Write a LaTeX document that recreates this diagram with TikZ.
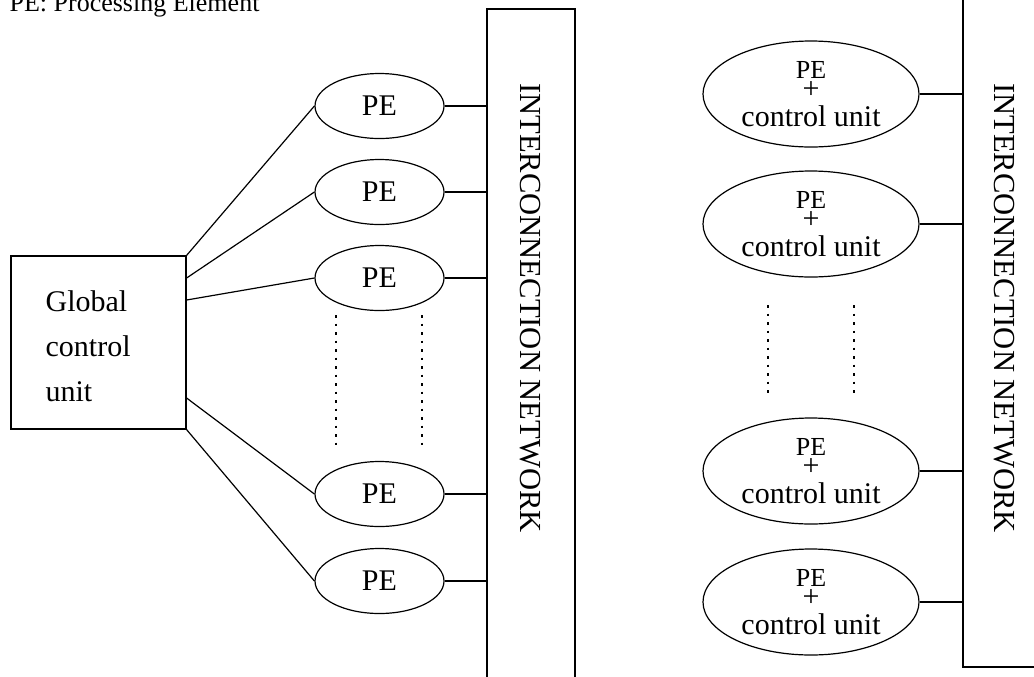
\documentclass[tikz,border=0pt]{standalone}
\usepackage{fontspec}
\setmainfont{Liberation Serif}
\usetikzlibrary{shapes.geometric}

\tikzset{
  txt/.style={inner sep=0pt, font=\fontsize{15}{18}\selectfont},
  pe/.style={draw, ellipse, txt, minimum width=64.5pt, minimum height=32.5pt},
  pecu/.style={draw, ellipse, inner sep=0pt, minimum width=108pt, minimum height=53pt},
  cutop/.style={txt, anchor=base, yshift=8pt, font=\fontsize{13}{13}\selectfont},
  cuplus/.style={txt, anchor=base, yshift=-2pt},
  cubot/.style={txt, anchor=base, yshift=-16pt},
  netbox/.style={draw, rectangle, inner sep=0pt},
  nettext/.style={txt, rotate=-90, font=\fontsize{15.3}{18}\selectfont},
  dots/.style={dash pattern=on 1.25pt off 3pt},
}

\begin{document}
\begin{tikzpicture}[x=0.5pt, y=-0.5pt, line width=0.6pt]
\useasboundingbox (0,0) rectangle (1034,676);
\clip (0,0) rectangle (1034,676);
\node[txt, anchor=base west, font=\fontsize{13}{16}\selectfont] (title) at (9,11) {PE: Processing Element};

\node[netbox, minimum width=87.5pt, minimum height=86.5pt] (gcu) at (98.5,342.5) {};
\node[txt, anchor=west, align=left, font=\fontsize{15}{22.5}\selectfont] (gcutext) at (45,346) {Global\\control\\unit};

\node[pe] (pe1) at (379.5,106) {PE};
\node[pe] (pe2) at (379.5,192) {PE};
\node[pe] (pe3) at (379.5,278) {PE};
\node[pe] (pe4) at (379.5,494) {PE};
\node[pe] (pe5) at (379.5,581) {PE};

\node[netbox, minimum width=44pt, minimum height=345.5pt] (net1) at (531,354.5) {};
\node[nettext] (net1text) at (530,308) {INTERCONNECTION NETWORK};

\draw (gcu.north east) -- (pe1.west);
\draw (gcu.east |- 0,278) -- (pe2.west);
\draw (gcu.east |- 0,300) -- (pe3.west);
\draw (gcu.east |- 0,398) -- (pe4.west);
\draw (gcu.south east) -- (pe5.west);
\draw (pe1.east) -- (pe1.east -| net1.west);
\draw (pe2.east) -- (pe2.east -| net1.west);
\draw (pe3.east) -- (pe3.east -| net1.west);
\draw (pe4.east) -- (pe4.east -| net1.west);
\draw (pe5.east) -- (pe5.east -| net1.west);
\draw[dots] (336,315) -- (336,448);
\draw[dots] (422,315) -- (422,448);

\node[pecu] (pecu1) at (811,94) {};
\node[cutop] (pecu1a) at (pecu1) {PE};
\node[cuplus] (pecu1b) at (pecu1) {+};
\node[cubot] (pecu1c) at (pecu1) {control unit};
\node[pecu] (pecu2) at (811,224) {};
\node[cutop] (pecu2a) at (pecu2) {PE};
\node[cuplus] (pecu2b) at (pecu2) {+};
\node[cubot] (pecu2c) at (pecu2) {control unit};
\node[pecu] (pecu3) at (811,471) {};
\node[cutop] (pecu3a) at (pecu3) {PE};
\node[cuplus] (pecu3b) at (pecu3) {+};
\node[cubot] (pecu3c) at (pecu3) {control unit};
\node[pecu] (pecu4) at (811,602) {};
\node[cutop] (pecu4a) at (pecu4) {PE};
\node[cuplus] (pecu4b) at (pecu4) {+};
\node[cubot] (pecu4c) at (pecu4) {control unit};

\node[netbox, minimum width=48.5pt, minimum height=343.5pt] (net2) at (1011.5,323.5) {};
\node[nettext] (net2text) at (1004,308) {INTERCONNECTION NETWORK};

\draw (pecu1.east) -- (pecu1.east -| net2.west);
\draw (pecu2.east) -- (pecu2.east -| net2.west);
\draw (pecu3.east) -- (pecu3.east -| net2.west);
\draw (pecu4.east) -- (pecu4.east -| net2.west);
\draw[dots] (768,305) -- (768,394);
\draw[dots] (854,305) -- (854,394);
\end{tikzpicture}
\end{document}
